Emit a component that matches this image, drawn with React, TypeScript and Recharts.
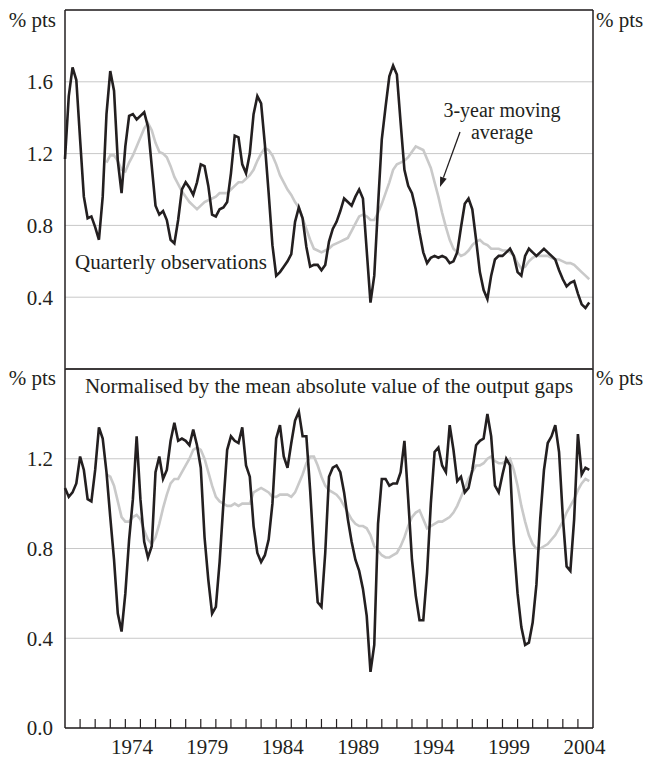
import { LineChart, Line, XAxis, YAxis, CartesianGrid, ReferenceLine } from "recharts"

const INK = "#231f20"
const GREY = "#c9c9c9"
const GRID = "#c8c8c8"
const FONT = '"Liberation Serif", "Times New Roman", Times, serif'

const FIRST_YEAR = 1970
const LAST_YEAR = 2005

// year boundaries get a tick mark, labels sit mid-year
const yearTicks = [
  1971, 1972, 1973, 1974, 1975, 1976, 1977, 1978, 1979, 1980, 1981, 1982,
  1983, 1984, 1985, 1986, 1987, 1988, 1989, 1990, 1991, 1992, 1993, 1994,
  1995, 1996, 1997, 1998, 1999, 2000, 2001, 2002, 2003, 2004,
]
const labelYears = [1974, 1979, 1984, 1989, 1994, 1999, 2004]

const topTicks = [0.4, 0.8, 1.2, 1.6]
const bottomTicks = [0, 0.4, 0.8, 1.2]

// quarterly, 1970 Q1 to 2004 Q4
const topQuarterly = [
  1.17, 1.52, 1.68, 1.61, 1.28, 0.96, 0.84, 0.85, 0.79, 0.72,
  0.96, 1.42, 1.66, 1.55, 1.16, 0.98, 1.24, 1.41, 1.42, 1.39,
  1.41, 1.43, 1.35, 1.13, 0.91, 0.86, 0.88, 0.83, 0.72, 0.70,
  0.83, 1.00, 1.04, 1.01, 0.97, 1.04, 1.14, 1.13, 1.02, 0.86,
  0.85, 0.89, 0.90, 0.93, 1.09, 1.30, 1.29, 1.14, 1.09, 1.20,
  1.42, 1.52, 1.48, 1.25, 0.98, 0.69, 0.52, 0.54, 0.57, 0.60,
  0.64, 0.82, 0.90, 0.84, 0.68, 0.57, 0.58, 0.58, 0.55, 0.58,
  0.71, 0.78, 0.82, 0.88, 0.95, 0.93, 0.91, 0.96, 1.00, 0.95,
  0.66, 0.37, 0.52, 0.91, 1.28, 1.46, 1.63, 1.69, 1.64, 1.37,
  1.11, 1.02, 0.98, 0.89, 0.76, 0.65, 0.59, 0.62, 0.63, 0.62,
  0.63, 0.62, 0.59, 0.60, 0.65, 0.79, 0.92, 0.95, 0.89, 0.72,
  0.54, 0.44, 0.39, 0.52, 0.61, 0.63, 0.63, 0.65, 0.67, 0.63,
  0.54, 0.52, 0.63, 0.67, 0.65, 0.63, 0.65, 0.67, 0.65, 0.63,
  0.61, 0.55, 0.50, 0.46, 0.48, 0.49, 0.42, 0.36, 0.34, 0.37,
]

const topAverage = [
  null, null, null, null, null, null, null, null, null, null,
  null, 1.15, 1.19, 1.19, 1.16, 1.11, 1.10, 1.15, 1.19, 1.24,
  1.29, 1.34, 1.37, 1.33, 1.26, 1.21, 1.20, 1.18, 1.13, 1.07,
  1.03, 0.99, 0.96, 0.93, 0.91, 0.89, 0.91, 0.93, 0.94, 0.95,
  0.96, 0.98, 0.98, 0.98, 1.00, 1.02, 1.04, 1.04, 1.06, 1.08,
  1.11, 1.16, 1.20, 1.23, 1.22, 1.19, 1.14, 1.08, 1.04, 1.00,
  0.97, 0.93, 0.90, 0.84, 0.78, 0.72, 0.67, 0.66, 0.65, 0.66,
  0.67, 0.69, 0.70, 0.71, 0.72, 0.73, 0.77, 0.81, 0.85, 0.86,
  0.85, 0.83, 0.83, 0.87, 0.92, 0.98, 1.04, 1.11, 1.14, 1.15,
  1.16, 1.18, 1.21, 1.24, 1.23, 1.22, 1.17, 1.12, 1.04, 0.96,
  0.87, 0.79, 0.72, 0.67, 0.65, 0.63, 0.64, 0.66, 0.69, 0.71,
  0.72, 0.70, 0.69, 0.67, 0.67, 0.67, 0.66, 0.66, 0.65, 0.63,
  0.59, 0.56, 0.57, 0.60, 0.62, 0.63, 0.63, 0.63, 0.63, 0.62,
  0.61, 0.61, 0.60, 0.59, 0.59, 0.58, 0.56, 0.54, 0.52, 0.50,
]

const bottomQuarterly = [
  1.07, 1.03, 1.05, 1.09, 1.21, 1.15, 1.02, 1.01, 1.15, 1.34,
  1.29, 1.14, 0.94, 0.75, 0.51, 0.43, 0.60, 0.84, 1.02, 1.30,
  1.02, 0.83, 0.76, 0.81, 1.14, 1.21, 1.11, 1.15, 1.28, 1.36,
  1.28, 1.29, 1.28, 1.26, 1.33, 1.26, 1.16, 0.85, 0.66, 0.51,
  0.54, 0.74, 1.00, 1.24, 1.30, 1.28, 1.27, 1.34, 1.17, 1.12,
  0.90, 0.78, 0.74, 0.77, 0.84, 1.00, 1.29, 1.35, 1.21, 1.16,
  1.27, 1.37, 1.41, 1.30, 1.30, 1.06, 0.78, 0.56, 0.54, 0.78,
  1.12, 1.16, 1.17, 1.14, 1.05, 0.93, 0.83, 0.75, 0.70, 0.62,
  0.50, 0.25, 0.37, 0.91, 1.11, 1.11, 1.08, 1.09, 1.09, 1.14,
  1.28, 1.02, 0.75, 0.59, 0.48, 0.48, 0.69, 1.00, 1.23, 1.25,
  1.17, 1.14, 1.35, 1.24, 1.10, 1.12, 1.05, 1.07, 1.15, 1.26,
  1.28, 1.29, 1.40, 1.30, 1.08, 1.05, 1.13, 1.20, 1.17, 0.82,
  0.60, 0.45, 0.37, 0.38, 0.47, 0.64, 0.93, 1.15, 1.27, 1.30,
  1.35, 1.23, 0.94, 0.72, 0.70, 0.93, 1.31, 1.13, 1.16, 1.15,
]

const bottomAverage = [
  null, null, null, null, null, null, null, null, null, null,
  null, 1.13, 1.12, 1.08, 1.01, 0.94, 0.92, 0.92, 0.94, 0.95,
  0.93, 0.88, 0.84, 0.82, 0.85, 0.91, 0.98, 1.04, 1.09, 1.11,
  1.11, 1.14, 1.17, 1.20, 1.24, 1.25, 1.24, 1.20, 1.14, 1.08,
  1.03, 1.01, 1.00, 0.99, 0.99, 1.00, 0.99, 1.00, 1.00, 1.00,
  1.05, 1.06, 1.07, 1.06, 1.05, 1.03, 1.03, 1.04, 1.04, 1.04,
  1.03, 1.05, 1.09, 1.13, 1.18, 1.21, 1.21, 1.17, 1.12, 1.08,
  1.06, 1.05, 1.04, 1.02, 0.99, 0.96, 0.93, 0.91, 0.90, 0.90,
  0.89, 0.86, 0.81, 0.79, 0.77, 0.76, 0.76, 0.77, 0.78, 0.81,
  0.85, 0.90, 0.94, 0.96, 0.97, 0.93, 0.89, 0.90, 0.91, 0.92,
  0.92, 0.93, 0.94, 0.96, 0.99, 1.03, 1.07, 1.11, 1.14, 1.17,
  1.17, 1.18, 1.20, 1.21, 1.19, 1.18, 1.18, 1.19, 1.20, 1.15,
  1.08, 0.99, 0.92, 0.86, 0.82, 0.80, 0.80, 0.81, 0.82, 0.84,
  0.86, 0.89, 0.92, 0.96, 0.99, 1.02, 1.06, 1.09, 1.11, 1.10,
]

type Row = { t: number; q: number; avg: number | null }

function toRows(q: number[], avg: (number | null)[]): Row[] {
  return q.map((v, i) => ({ t: FIRST_YEAR + i / 4, q: v, avg: avg[i] }))
}

const topData = toRows(topQuarterly, topAverage)
const bottomData = toRows(bottomQuarterly, bottomAverage)

const xTicks = [...yearTicks, ...labelYears.map((y) => y + 0.5)]

const tickText = { fill: INK, fontSize: 21, fontFamily: FONT }
const frame = { stroke: INK, strokeWidth: 1.5 }

function YearTick(props: any) {
  const { x, y, payload } = props
  const v = payload.value as number
  if (Number.isInteger(v)) {
    return <line x1={x} x2={x} y1={y} y2={y - 9} stroke={INK} strokeWidth={1.2} />
  }
  return (
    <text x={x - 1} y={y + 26} textAnchor="middle" fill={INK} fontSize={21} fontFamily={FONT}>
      {Math.floor(v)}
    </text>
  )
}

function Panel({
  data,
  height,
  max,
  ticks,
  withYears,
}: {
  data: Row[]
  height: number
  max: number
  ticks: number[]
  withYears: boolean
}) {
  return (
    <LineChart
      width={652}
      height={height}
      data={data}
      margin={{ top: 10, right: 9, bottom: withYears ? 0 : 3, left: 5 }}
    >
      <CartesianGrid yAxisId="left" vertical={false} stroke={GRID} strokeWidth={1} />
      <XAxis
        dataKey="t"
        type="number"
        domain={[FIRST_YEAR, LAST_YEAR]}
        ticks={withYears ? xTicks : []}
        interval={0}
        hide={!withYears}
        height={31}
        tickSize={0}
        tickMargin={0}
        tickLine={false}
        axisLine={frame}
        tick={<YearTick />}
      />
      <YAxis
        yAxisId="left"
        orientation="left"
        width={60}
        domain={[0, max]}
        ticks={ticks}
        interval={0}
        tickLine={false}
        tickMargin={6}
        axisLine={frame}
        tick={tickText}
        tickFormatter={(v: number) => v.toFixed(1)}
      />
      <YAxis
        yAxisId="right"
        orientation="right"
        width={50}
        domain={[0, max]}
        ticks={ticks}
        interval={0}
        tickLine={false}
        tickMargin={4}
        axisLine={frame}
        tick={{ ...tickText, textAnchor: "start" }}
        tickFormatter={(v: number) => v.toFixed(1)}
      />
      <ReferenceLine yAxisId="left" y={max} stroke={INK} strokeWidth={1.5} />
      {!withYears && <ReferenceLine yAxisId="left" y={0} stroke={INK} strokeWidth={1.5} />}
      <Line
        yAxisId="left"
        dataKey="avg"
        stroke={GREY}
        strokeWidth={2.6}
        dot={false}
        activeDot={false}
        isAnimationActive={false}
      />
      <Line
        yAxisId="left"
        dataKey="q"
        stroke={INK}
        strokeWidth={2.6}
        dot={false}
        activeDot={false}
        isAnimationActive={false}
      />
    </LineChart>
  )
}

function Arrow({ x1, y1, x2, y2 }: { x1: number; y1: number; x2: number; y2: number }) {
  const len = Math.hypot(x2 - x1, y2 - y1)
  const ux = (x2 - x1) / len
  const uy = (y2 - y1) / len
  const bx = x2 - ux * 10
  const by = y2 - uy * 10
  const pts = `${x2},${y2} ${bx + uy * 3.5},${by - ux * 3.5} ${bx - uy * 3.5},${by + ux * 3.5}`
  return (
    <g>
      <line x1={x1} y1={y1} x2={bx} y2={by} stroke={INK} strokeWidth={1.3} />
      <polygon points={pts} fill={INK} />
    </g>
  )
}

export default function App() {
  const txt = { fill: INK, fontSize: 21, fontFamily: FONT }
  return (
    <div style={{ position: "absolute", left: 0, top: 0, width: 652, height: 759, background: "#fff" }}>
      <div style={{ position: "absolute", left: 0, top: 0 }}>
        <Panel data={topData} height={372} max={2} ticks={topTicks} withYears={false} />
      </div>
      <div style={{ position: "absolute", left: 0, top: 359 }}>
        <Panel data={bottomData} height={400} max={1.6} ticks={bottomTicks} withYears />
      </div>
      <svg
        width={652}
        height={759}
        style={{ position: "absolute", left: 0, top: 0, pointerEvents: "none" }}
      >
        <text x={56} y={27} textAnchor="end" {...txt}>% pts</text>
        <text x={596} y={27} {...txt}>% pts</text>
        <text x={56} y={385} textAnchor="end" {...txt}>% pts</text>
        <text x={596} y={385} {...txt}>% pts</text>
        <text x={75} y={269} {...txt}>Quarterly observations</text>
        <text x={502} y={117} textAnchor="middle" {...txt} fontSize={20}>3-year moving</text>
        <text x={502} y={139} textAnchor="middle" {...txt} fontSize={20}>average</text>
        <Arrow x1={460} y1={132} x2={440} y2={187} />
        <text x={329} y={393} textAnchor="middle" {...txt}>
          Normalised by the mean absolute value of the output gaps
        </text>
      </svg>
    </div>
  )
}
